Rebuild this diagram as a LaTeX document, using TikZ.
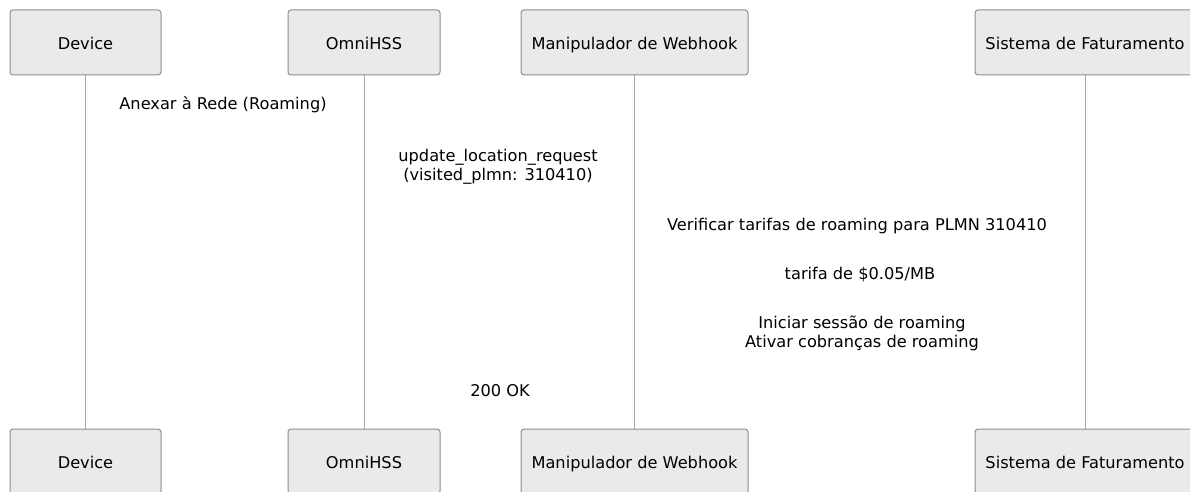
\documentclass[tikz,border=0pt]{standalone}
\usepackage{fontspec}
\setmainfont{DejaVu Sans}
\usepackage{tikz}
\usetikzlibrary{positioning}
\definecolor{boxfill}{HTML}{EAEAEA}
\definecolor{boxline}{HTML}{8E8E8E}

\begin{document}
\begin{tikzpicture}[
		x=1pt, y=-1pt,
		actor/.style={draw=boxline, line width=1pt, fill=boxfill, rounded corners=3pt, minimum height=65pt, font=\fontsize{16.2}{19}\selectfont, inner sep=0pt, text height=16pt, text depth=1.5pt},
		lifeline/.style={draw=boxline!80, line width=1pt},
		msg/.style={align=center, font=\fontsize{16.2}{19.5}\selectfont, inner sep=0pt}
		]
		
		\useasboundingbox (0,0) rectangle (1190,492);
		
		% lifelines first, boxes on top
		\coordinate (devtop) at (85,75);
		\coordinate (devbot) at (85,429);
		\coordinate (hsstop) at (364,75);
		\coordinate (hssbot) at (364,429);
		\coordinate (whtop) at (634,75);
		\coordinate (whbot) at (634,429);
		\coordinate (fattop) at (1085,75);
		\coordinate (fatbot) at (1085,429);
		
		\draw[lifeline] (devtop) -- (devbot);
		\draw[lifeline] (hsstop) -- (hssbot);
		\draw[lifeline] (whtop) -- (whbot);
		\draw[lifeline] (fattop) -- (fatbot);
		
		\node[actor, minimum width=151pt] (dev) at (85.5,42.5) {Device};
		\node[actor, minimum width=152pt] (hss) at (364,42.5) {OmniHSS};
		\node[actor, minimum width=227pt] (wh) at (634.5,42.5) {Manipulador de Webhook};
		\node[actor, minimum width=220pt] (fat) at (1085,42.5) {Sistema de Faturamento};
		
		\node[actor, minimum width=151pt] (devb) at (85.5,461.5) {Device};
		\node[actor, minimum width=152pt] (hssb) at (364,461.5) {OmniHSS};
		\node[actor, minimum width=227pt] (whb) at (634.5,461.5) {Manipulador de Webhook};
		\node[actor, minimum width=220pt] (fatb) at (1085,461.5) {Sistema de Faturamento};
		
		% messages
		\node[msg] (attach) at (223,105) {Anexar à Rede (Roaming)};
		\node[msg] (ulr) at (498,167) {update\_location\_request\\(visited\_plmn: 310410)};
		\node[msg] (check) at (857,226) {Verificar tarifas de roaming para PLMN 310410};
		\node[msg] (rate) at (860,275) {tarifa de \$0.05/MB};
		\node[msg] (start) at (862,333.5) {Iniciar sessão de roaming\\Ativar cobranças de roaming};
		\node[msg] (ok) at (500,391) {200 OK};
		
	\end{tikzpicture}
\end{document}
